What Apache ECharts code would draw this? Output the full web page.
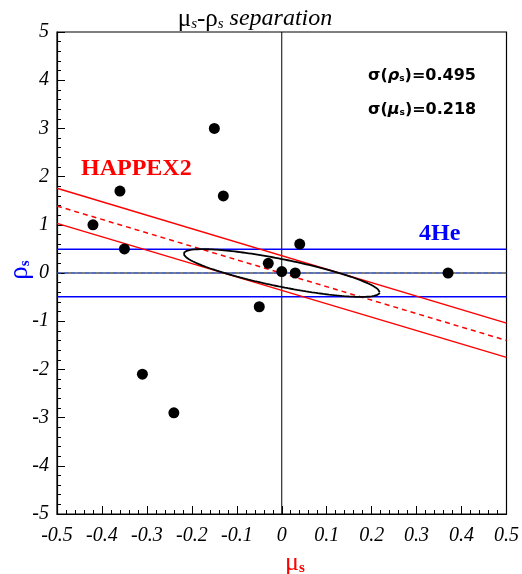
<!DOCTYPE html>
<html>
<head>
<meta charset="utf-8">
<script src="https://cdn.jsdelivr.net/npm/echarts@6/dist/echarts.min.js"></script>
<style>
  html, body { margin: 0; padding: 0; background: #fff; }
  #chart { width: 522px; height: 574px; }
</style>
</head>
<body>
<div id="chart"></div>
<script>
// Individual (mu_s, rho_s) determinations
const pointsMu  = [-0.42, -0.36, -0.35, -0.15, -0.13, -0.31, -0.24, -0.05, -0.03, 0.00, 0.03, 0.04, 0.37];
const pointsRho = [ 1.00,  1.70,  0.50,  3.00,  1.60, -2.10, -2.90, -0.70,  0.20, 0.03, 0.00, 0.60, 0.00];

// Band edges evaluated at the two ends of the mu_s range
const bandMu        = [-0.5, 0.5];
const happexUpper   = [1.76, -1.04];
const happexCentral = [1.39, -1.40];
const happexLower   = [1.03, -1.75];
const heUpper       = [0.495, 0.495];
const heCentral     = [0, 0];
const heLower       = [-0.495, -0.495];

// Combined 1-sigma contour parameters
const sigmaMu = 0.218;
const sigmaRho = 0.495;
const correlation = -0.81;

// Tick labels
const xTickLabels = ['-0.5', '-0.4', '-0.3', '-0.2', '-0.1', '0', '0.1', '0.2', '0.3', '0.4', '0.5'];
const yTickLabels = ['-5', '-4', '-3', '-2', '-1', '0', '1', '2', '3', '4', '5'];

const RED = '#ff0000';
const BLUE = '#0000ff';
const SERIF = 'Liberation Serif';

function band(values) {
  return bandMu.map((m, i) => [m, values[i]]);
}

// Ellipse contour from the sigmas and correlation
const ellipse = [];
for (let k = 0; k <= 200; k++) {
  const t = 2 * Math.PI * k / 200;
  ellipse.push([
    sigmaMu * Math.cos(t),
    sigmaRho * (correlation * Math.cos(t) + Math.sqrt(1 - correlation * correlation) * Math.sin(t))
  ]);
}

function lineSeries(data, color, width, type, z) {
  return {
    type: 'line', data: data, symbol: 'none', silent: true, z: z || 2,
    lineStyle: { color: color, width: width, type: type || 'solid', opacity: 1 }
  };
}

const labelStyle = { fontFamily: SERIF, fontStyle: 'italic', fontSize: 20, color: '#000' };

const chart = echarts.init(document.getElementById('chart'), null, { renderer: 'canvas' });
chart.setOption({
  animation: false,
  backgroundColor: '#fff',
  grid: { left: 57, top: 32, width: 452, height: 482, show: true, borderColor: '#000', borderWidth: 1.2, backgroundColor: 'transparent' },
  xAxis: {
    type: 'value', min: -0.5, max: 0.5, interval: 0.1,
    axisLine: { onZero: false, lineStyle: { color: '#000', width: 1.2 } },
    axisTick: { inside: true, length: 8, lineStyle: { color: '#000' } },
    minorTick: { show: true, splitNumber: 5, length: 4, lineStyle: { color: '#000' } },
    splitLine: { show: false },
    axisLabel: Object.assign({ margin: 12, formatter: v => xTickLabels[Math.round((v + 0.5) * 10)] }, labelStyle)
  },
  yAxis: {
    type: 'value', min: -5, max: 5, interval: 1,
    axisLine: { onZero: false, lineStyle: { color: '#000', width: 1.2 } },
    axisTick: { inside: true, length: 8, lineStyle: { color: '#000' } },
    minorTick: { show: true, splitNumber: 5, length: 4, lineStyle: { color: '#000' } },
    splitLine: { show: false },
    axisLabel: Object.assign({ margin: 8, formatter: v => yTickLabels[Math.round(v + 5)] }, labelStyle)
  },
  series: [
    lineSeries([[0, -5], [0, 5]], '#000', 1),
    lineSeries([[-0.5, 0], [0.5, 0]], '#000', 1),
    lineSeries(band(heUpper), BLUE, 1.5),
    lineSeries(band(heCentral), '#3060ff', 1.2, [4, 3], 3),
    lineSeries(band(heLower), BLUE, 1.5),
    lineSeries(band(happexUpper), RED, 1.5),
    lineSeries(band(happexCentral), RED, 1.5, [5, 4]),
    lineSeries(band(happexLower), RED, 1.5),
    lineSeries(ellipse, '#000', 1.8, 'solid', 4),
    {
      type: 'scatter', z: 5, symbol: 'circle', symbolSize: 11,
      itemStyle: { color: '#000', opacity: 1 },
      data: pointsMu.map((m, i) => [m, pointsRho[i]])
    }
  ],
  graphic: [
    {
      type: 'text', x: 255, y: 19,
      style: {
        text: '{g|μ}{s|s}{g|-ρ}{s|s}{i| separation}',
        align: 'center', verticalAlign: 'middle',
        rich: {
          g: { fontFamily: SERIF, fontSize: 25, lineHeight: 26, fill: '#000' },
          s: { fontFamily: SERIF, fontStyle: 'italic', fontSize: 15, lineHeight: 16, padding: [10, 0, 0, 0], fill: '#000' },
          i: { fontFamily: SERIF, fontStyle: 'italic', fontSize: 24, lineHeight: 26, fill: '#000' }
        }
      }
    },
    {
      type: 'text', x: 295, y: 563,
      style: {
        text: '{g|μ}{s|s}', align: 'center', verticalAlign: 'middle',
        rich: {
          g: { fontFamily: SERIF, fontSize: 26, lineHeight: 26, fill: RED },
          s: { fontFamily: SERIF, fontWeight: 'bold', fontSize: 15, lineHeight: 16, padding: [10, 0, 0, 0], fill: RED }
        }
      }
    },
    {
      type: 'text', x: 20, y: 270, rotation: Math.PI / 2,
      style: {
        text: '{g|ρ}{s|s}', align: 'center', verticalAlign: 'middle',
        rich: {
          g: { fontFamily: SERIF, fontSize: 27, lineHeight: 26, fill: BLUE },
          s: { fontFamily: SERIF, fontWeight: 'bold', fontSize: 15, lineHeight: 16, padding: [10, 0, 0, 0], fill: BLUE }
        }
      }
    },
    {
      type: 'text', x: 81, y: 169,
      style: { text: 'HAPPEX2', fontFamily: SERIF, fontWeight: 'bold', fontSize: 24, fill: RED, align: 'left', verticalAlign: 'middle' }
    },
    {
      type: 'text', x: 419, y: 234,
      style: { text: '4He', fontFamily: SERIF, fontWeight: 'bold', fontSize: 24, fill: BLUE, align: 'left', verticalAlign: 'middle' }
    },
    {
      type: 'text', x: 368, y: 76,
      style: {
        text: '{t|σ(}{it|ρ}{s|s}{t|)=0.495}', align: 'left', verticalAlign: 'middle',
        rich: {
          t: { fontFamily: 'DejaVu Sans', fontWeight: 'bold', fontSize: 16, lineHeight: 18, fill: '#000' },
          it: { fontFamily: 'DejaVu Sans', fontWeight: 'bold', fontStyle: 'italic', fontSize: 16, lineHeight: 18, fill: '#000' },
          s: { fontFamily: 'DejaVu Sans', fontWeight: 'bold', fontSize: 9, lineHeight: 10, padding: [6, 0, 0, 0], fill: '#000' }
        }
      }
    },
    {
      type: 'text', x: 368, y: 110,
      style: {
        text: '{t|σ(}{it|μ}{s|s}{t|)=0.218}', align: 'left', verticalAlign: 'middle',
        rich: {
          t: { fontFamily: 'DejaVu Sans', fontWeight: 'bold', fontSize: 16, lineHeight: 18, fill: '#000' },
          it: { fontFamily: 'DejaVu Sans', fontWeight: 'bold', fontStyle: 'italic', fontSize: 16, lineHeight: 18, fill: '#000' },
          s: { fontFamily: 'DejaVu Sans', fontWeight: 'bold', fontSize: 9, lineHeight: 10, padding: [6, 0, 0, 0], fill: '#000' }
        }
      }
    }
  ]
});
</script>
</body>
</html>
